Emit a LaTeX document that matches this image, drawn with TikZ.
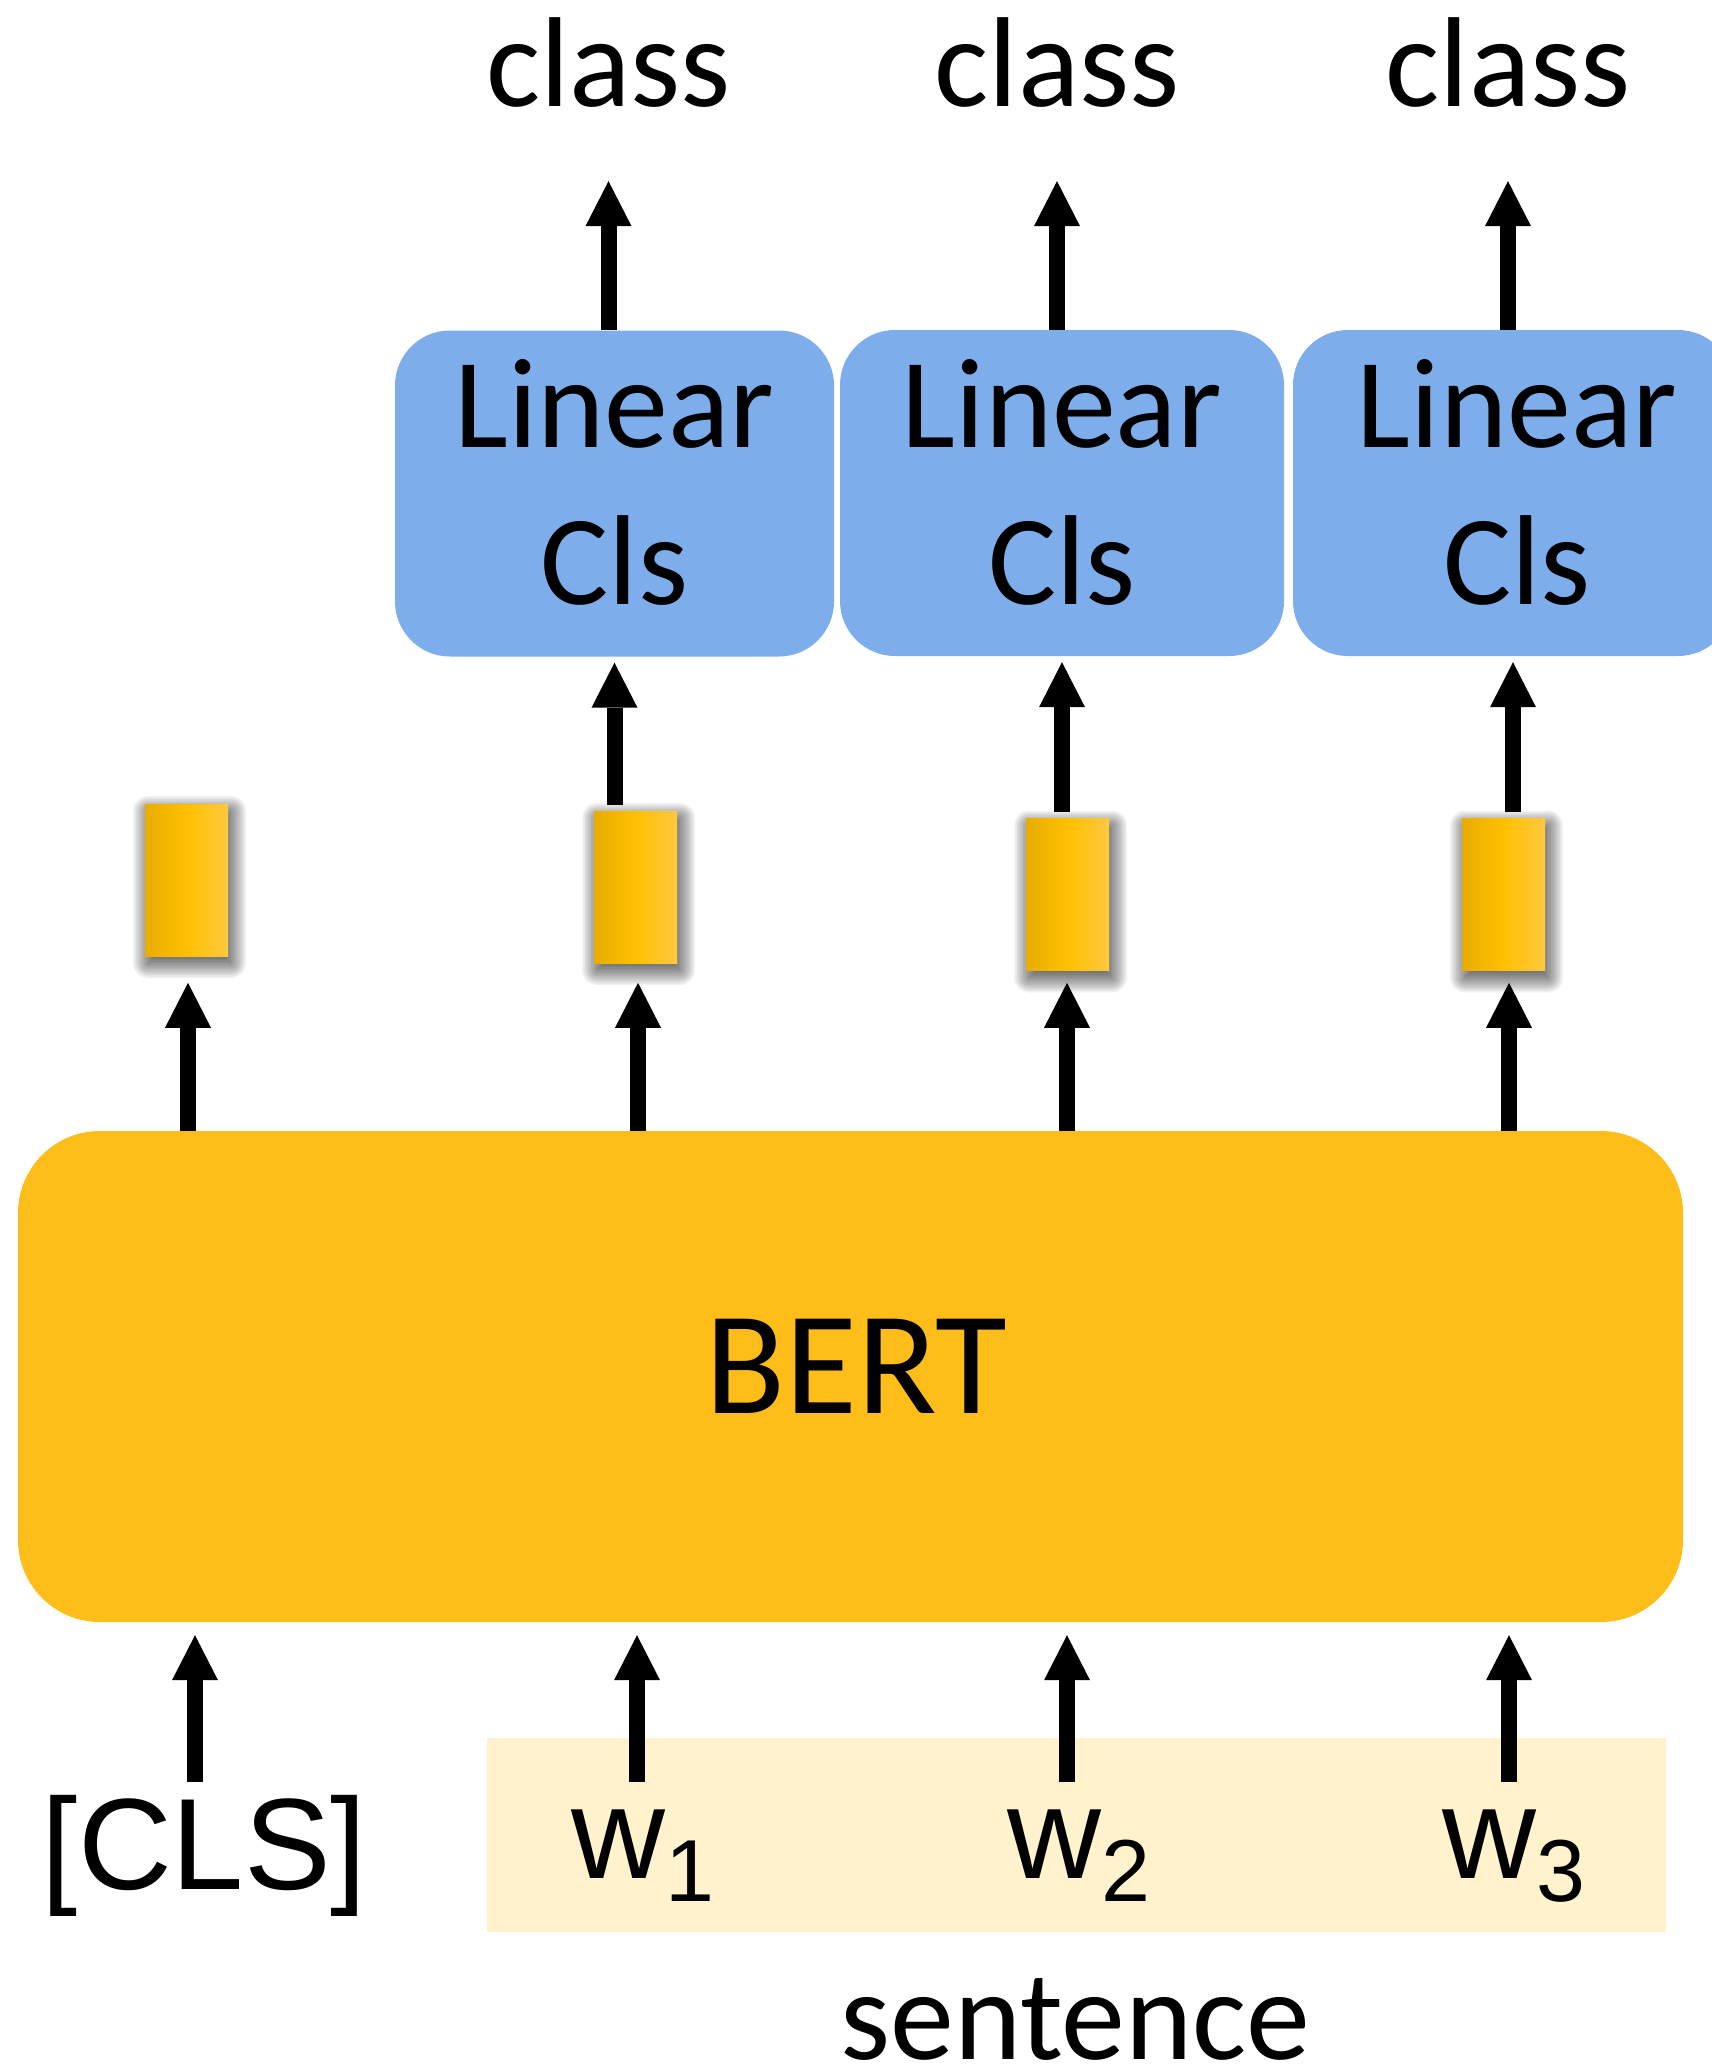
\documentclass[tikz,border=0pt]{standalone}
\usepackage{fontspec}
\setmainfont{Carlito}
\newfontfamily\arialf{Liberation Sans}
\usetikzlibrary{arrows.meta}
\definecolor{bertc}{HTML}{FEBD18}
\definecolor{linc}{HTML}{7DADEB}
\definecolor{sentc}{HTML}{FFF2CC}
\definecolor{vecl}{HTML}{E8AC00}
\definecolor{vecm}{HTML}{FFC000}
\definecolor{vecr}{HTML}{FFC840}
\begin{document}
\begin{tikzpicture}[x=1pt,y=-1pt,
  cal/.style={font=\fontsize{128}{157}\selectfont, inner sep=0pt},
  ari/.style={font=\arialf\fontsize{130}{156}\selectfont, inner sep=0pt},
  arr/.style={line width=16pt, -{Triangle[width=46pt,length=45pt,line width=0pt]}},
  linbox/.style={fill=linc, rounded corners=55pt, minimum height=326pt, inner sep=0pt},
  vec/.style={inner sep=0pt, minimum width=83pt, minimum height=152pt, left color=vecl, right color=vecr, middle color=vecm},
]
\useasboundingbox (0,0) rectangle (1711,2066);

% BERT
\node[fill=bertc, rounded corners=82pt, minimum width=1665pt, minimum height=491pt, inner sep=0pt] (bert) at (850.5,1376.5) {};
\node[font=\fontsize{147}{176}\selectfont, inner sep=0pt, anchor=base] (berttxt) at (856.5,1413) {BERT};

% sentence box
\node[fill=sentc, minimum width=1179pt, minimum height=194pt, inner sep=0pt] (sbox) at (1076.5,1835) {};
\node[cal, anchor=base] (sent) at (1075.5,2059) {sentence};

% tokens
\node[ari, anchor=base] (cls) at (204.5,1889) {[CLS]};
\node[ari, anchor=base west] (w1) at (571,1878) {w\raisebox{-23pt}{\fontsize{88}{88}\selectfont 1}};
\node[ari, anchor=base west] (w2) at (1007,1878) {w\raisebox{-23pt}{\fontsize{88}{88}\selectfont 2}};
\node[ari, anchor=base west] (w3) at (1442,1878) {w\raisebox{-23pt}{\fontsize{88}{88}\selectfont 3}};

% Linear classifier boxes
\node[linbox, minimum width=439pt] (lin1) at (614.5,493.5) {};
\node[linbox, minimum width=444pt] (lin2) at (1062,493) {};
\node[linbox, minimum width=440pt] (lin3) at (1513,493) {};
\node[cal, anchor=base] (l1a) at (614.5,447) {Linear};
\node[cal, anchor=base] (l1b) at (614.5,604) {Cls};
\node[cal, anchor=base] (l2a) at (1062,447) {Linear};
\node[cal, anchor=base] (l2b) at (1062,604) {Cls};
\node[cal, anchor=base] (l3a) at (1517,447) {Linear};
\node[cal, anchor=base] (l3b) at (1517,604) {Cls};

% class labels
\node[cal, anchor=base] (c1) at (608.5,106) {class};
\node[cal, anchor=base] (c2) at (1057,106) {class};
\node[cal, anchor=base] (c3) at (1508,106) {class};

% token vectors with soft (blurred) shadow
\foreach \n/\x/\y in {v0/186.5/880, v1/635.5/887, v2/1067.5/894.5, v3/1503.5/894.5}{
  \foreach \e in {-12,-10.5,...,15}{
    \pgfmathsetmacro{\rr}{max(\e,0)}
    \fill[black, fill opacity=0.05, rounded corners=\rr pt] (\x-41.5-\e+3, \y-76-\e+7) rectangle (\x+41.5+\e+3, \y+76+\e+7);
  }
  \node[vec] (\n) at (\x,\y) {};
}

% arrows: inputs -> BERT
\coordinate (i0) at (195,1782);
\coordinate (i1) at (637,1782);
\coordinate (i2) at (1067,1782);
\coordinate (i3) at (1509,1782);
\foreach \i in {i0,i1,i2,i3}{
  \draw[arr, shorten >=13pt] (\i) -- (\i |- bert.south);
}

% arrows: BERT -> vectors
\coordinate (o0) at (188,1131);
\coordinate (o1) at (638,1131);
\coordinate (o2) at (1067,1131);
\coordinate (o3) at (1509,1131);
\foreach \o/\v in {o0/v0,o1/v1,o2/v2,o3/v3}{
  \draw[arr] (\o |- bert.north) -- ++(0,-148);
}

% arrows: vectors -> Linear Cls
\draw[arr, shorten <=6pt, shorten >=6pt] (v1.north -| lin1) -- (lin1.south);
\draw[arr, shorten <=6pt, shorten >=6pt] (v2.north -| lin2) -- (lin2.south);
\draw[arr, shorten <=6pt, shorten >=6pt] (v3.north -| lin3) -- (lin3.south);

% arrows: Linear Cls -> class
\draw[arr, shorten >=74pt] (lin1.north -| c1) -- (c1.south);
\draw[arr, shorten >=74pt] (lin2.north -| c2) -- (c2.south);
\draw[arr, shorten >=74pt] (lin3.north -| c3) -- (c3.south);
\end{tikzpicture}
\end{document}
